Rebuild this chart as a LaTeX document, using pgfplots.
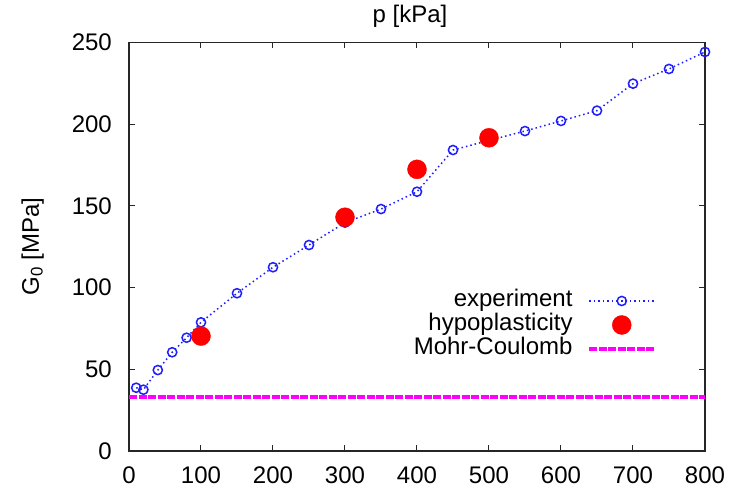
\documentclass[border=0pt]{standalone}
\usepackage{fontspec}
\setmainfont{Liberation Sans}
\usepackage{pgfplots}
\pgfplotsset{compat=1.18}
\definecolor{expblue}{RGB}{30,30,255}
\definecolor{mcmag}{RGB}{255,0,255}
\pgfplotstableread{
x y
10 38.7
20 37.5
40 49.5
60 60.4
80 69.3
100 78.7
150 96.5
200 112.4
250 126
300 139.7
350 148
400 158.6
450 184.1
500 190
550 195.7
600 201.9
650 208.2
700 224.7
750 233.7
800 244.1
}\experiment
\pgfplotstableread{
x y
100 70.3
300 143
400 172.3
500 191.6
}\hypo
\begin{document}
\fontsize{24}{28}\selectfont
\begin{tikzpicture}[font=\fontsize{24}{28}\selectfont]
\useasboundingbox (0,0) rectangle (733pt,495pt);
\begin{axis}[
  at={(129pt,44pt)}, anchor=south west,
  scale only axis, width=576pt, height=408.7pt,
  xmin=0, xmax=800, ymin=0, ymax=250,
  xtick={0,100,...,800}, ytick={0,50,...,250},
  tick align=inside, major tick length=6pt,
  axis line style={line width=1.2pt, black!85},
  every tick/.style={black!85, line width=1pt},
  /pgf/number format/assume math mode=true,
  xticklabel style={anchor=north, inner sep=0pt, yshift=-16pt},
  yticklabel style={anchor=east, inner sep=0pt, xshift=-17pt},
  title={p [kPa]},
  title style={at={(axis description cs:0.5,1)}, anchor=base, inner sep=0pt, yshift=14pt, xshift=-7pt},
  ylabel={G\textsubscript{0} [MPa]},
  every axis y label/.style={at={(axis description cs:-0.1563,0.5)}, anchor=base, rotate=90, inner sep=0pt},
  clip=false,
  legend plot pos=right,
  legend cell align=right,
  legend image code/.code={\draw[mark repeat=2,mark phase=2,#1] plot coordinates {(0pt,0pt) (32.5pt,0pt) (65pt,0pt)};},
  legend style={draw=none, fill=none, at={(axis cs:732,98.5)}, anchor=north east,
    inner sep=0pt, outer sep=0pt, column sep=15pt, row sep=2pt,
    nodes={inner sep=0pt, text height=17pt, text depth=5pt}},
]
\addplot[color=expblue, line width=1.5pt, dash pattern=on 1.5pt off 3pt,
  mark=o, mark size=4.6pt, mark options={solid, line width=1.5pt}]
  table[x=x,y=y] {\experiment};
\addlegendentry{experiment}
\addplot[only marks, mark=*, color=red, mark size=9.5pt]
  table[x=x,y=y] {\hypo};
\addlegendentry{hypoplasticity}
\addplot[color=mcmag, line width=3.5pt, dash pattern=on 8pt off 1.5pt]
  coordinates {(0,33) (800,33)};
\addlegendentry{Mohr-Coulomb}
\end{axis}
\end{tikzpicture}
\end{document}
